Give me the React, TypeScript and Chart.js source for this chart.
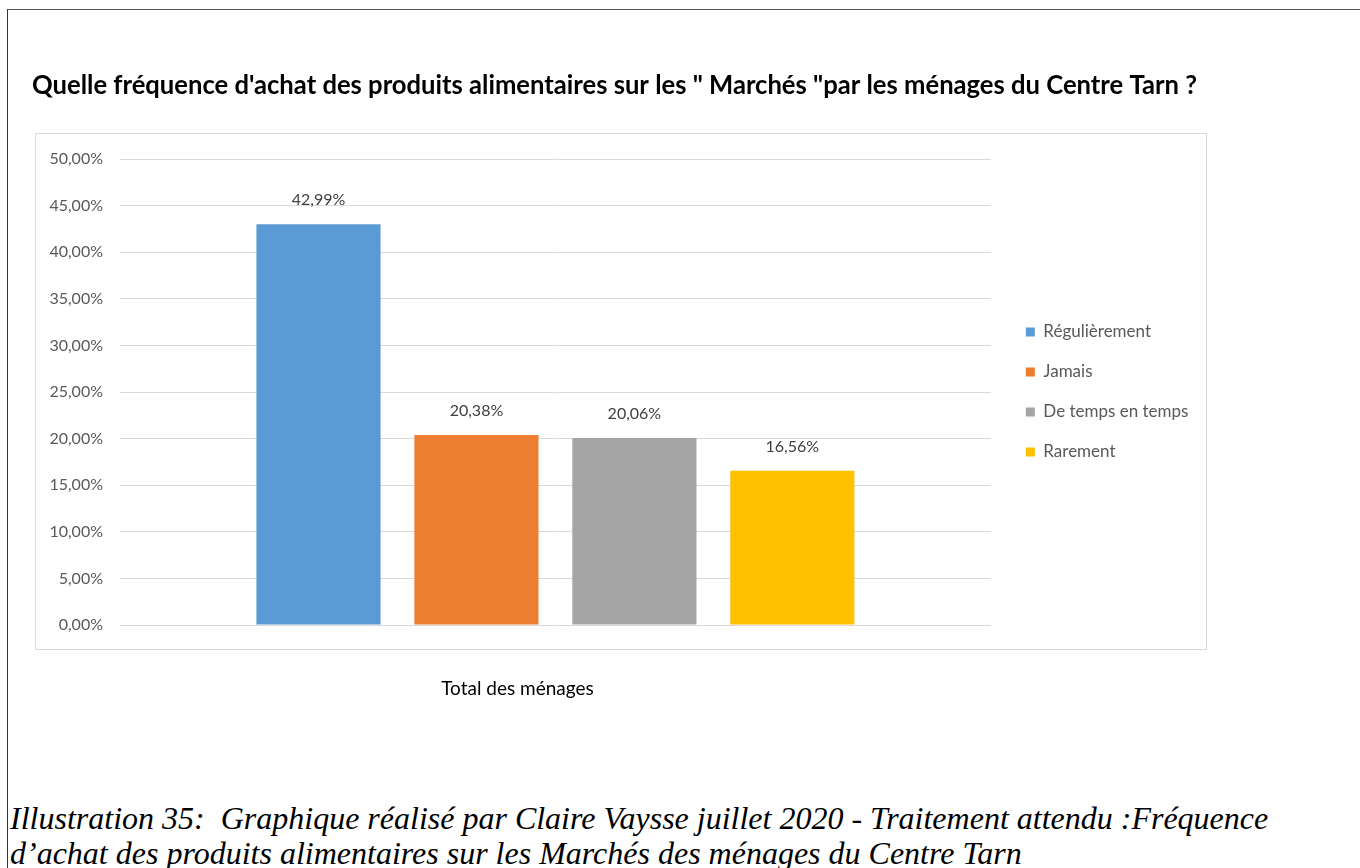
import React, { useEffect, useRef } from "react";
import { Chart, registerables } from "chart.js";

Chart.register(...registerables);

const titleText =
  "Quelle fréquence d'achat des produits alimentaires sur les \" Marchés \"par les ménages du Centre Tarn ?";
const categories = ["Total des ménages"];
const seriesNames = ["Régulièrement", "Jamais", "De temps en temps", "Rarement"];
const seriesValues = [42.99, 20.38, 20.06, 16.56];
const seriesColors = ["#5B9BD5", "#ED7D31", "#A5A5A5", "#FFC000"];
const yMin = 0;
const yMax = 50;
const yStep = 5;
const captionLines = [
  "Illustration 35:  Graphique réalisé par Claire Vaysse juillet 2020 - Traitement attendu :Fréquence",
  "d’achat des produits alimentaires sur les Marchés des ménages du Centre Tarn",
];

const FONT = "Lato, 'Open Sans', sans-serif";

const fmtPct = (v: number) => v.toFixed(2).replace(".", ",") + "%";

const valueLabels = {
  id: "valueLabels",
  afterDatasetsDraw(chart: any) {
    const ctx = chart.ctx;
    ctx.save();
    ctx.font = `16px ${FONT}`;
    ctx.fillStyle = "#404040";
    ctx.textAlign = "center";
    ctx.textBaseline = "middle";
    chart.data.datasets.forEach((ds: any, i: number) => {
      const meta = chart.getDatasetMeta(i);
      meta.data.forEach((el: any, j: number) => {
        ctx.fillText(fmtPct(ds.data[j]), el.x, el.y - 24);
      });
    });
    ctx.restore();
  },
};

export default function App() {
  const ref = useRef<HTMLCanvasElement>(null);

  useEffect(() => {
    if (!ref.current) return;
    const chart = new Chart(ref.current, {
      type: "bar",
      data: {
        labels: categories,
        datasets: seriesNames.map((name, i) => ({
          label: name,
          data: [seriesValues[i]],
          backgroundColor: seriesColors[i],
          barPercentage: 0.786,
          categoryPercentage: 0.7255,
        })),
      },
      options: {
        animation: false,
        responsive: false,
        maintainAspectRatio: false,
        layout: { padding: { left: 12, right: 23, top: 0, bottom: 0 } },
        plugins: {
          title: {
            display: true,
            text: titleText,
            align: "start",
            color: "#000",
            font: { family: FONT, size: 26, weight: "bold" },
            padding: { top: 10.4, bottom: 57.4 },
          },
          legend: {
            display: true,
            position: "right",
            fullSize: false,
            labels: {
              boxWidth: 9,
              boxHeight: 9,
              padding: 23,
              color: "#595959",
              font: { family: FONT, size: 17 },
            },
          },
          tooltip: { enabled: false },
        },
        scales: {
          x: {
            grid: { display: false },
            border: { display: false },
            ticks: {
              color: "#000",
              font: { family: FONT, size: 19 },
              padding: 44,
              labelOffset: -38,
            },
            afterFit: (s: any) => {
              s.height = 95;
            },
          },
          y: {
            min: yMin,
            max: yMax,
            grid: { color: "#D9D9D9", drawTicks: false, lineWidth: 1 },
            border: { display: false },
            ticks: {
              stepSize: yStep,
              color: "#595959",
              font: { family: FONT, size: 16 },
              padding: 17,
              callback: (v: any) => fmtPct(Number(v)),
            },
            afterFit: (s: any) => {
              s.width = 88;
            },
          },
          y2: {
            position: "right",
            display: true,
            grid: { display: false },
            border: { display: false },
            ticks: { display: false },
            afterFit: (s: any) => {
              s.width = 12;
            },
          },
        },
      },
      plugins: [valueLabels],
    } as any);
    return () => chart.destroy();
  }, []);

  return (
    <div
      style={{
        position: "absolute",
        left: 0,
        top: 0,
        width: 1360,
        height: 868,
        overflow: "hidden",
        background: "#fff",
      }}
    >
      <div
        style={{
          position: "absolute",
          left: 7,
          top: 9,
          width: 1400,
          height: 900,
          borderTop: "1px solid #555",
          borderLeft: "1px solid #333",
        }}
      />
      <div
        style={{
          position: "absolute",
          left: 35,
          top: 133,
          width: 1172,
          height: 517,
          boxSizing: "border-box",
          border: "1px solid #D9D9D9",
        }}
      />
      <canvas
        ref={ref}
        width={1200}
        height={660}
        style={{ position: "absolute", left: 20, top: 60, width: 1200, height: 660 }}
      />
      <div
        style={{
          position: "absolute",
          left: 10,
          top: 801,
          fontFamily: "'Liberation Serif', serif",
          fontStyle: "italic",
          fontSize: 32,
          lineHeight: "35px",
          color: "#000",
          whiteSpace: "pre",
        }}
      >
        {captionLines.map((l, i) => (
          <div key={i}>{l}</div>
        ))}
      </div>
    </div>
  );
}
